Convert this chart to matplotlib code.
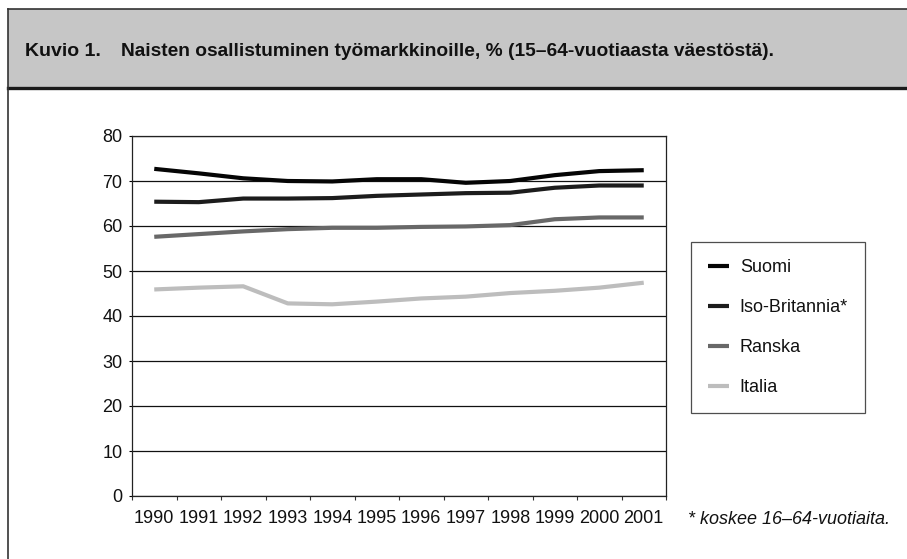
import matplotlib
matplotlib.use("Agg")
import matplotlib.pyplot as plt
from matplotlib.patches import Rectangle
from matplotlib.lines import Line2D
from matplotlib import font_manager

# Naisten työvoimaosuus, % 15–64-vuotiaista
years = ['1990', '1991', '1992', '1993', '1994', '1995',
         '1996', '1997', '1998', '1999', '2000', '2001']
suomi = [72.7, 71.7, 70.6, 70.0, 69.9, 70.4, 70.4, 69.6, 70.0, 71.3, 72.2, 72.4]
iso_britannia = [65.4, 65.3, 66.1, 66.1, 66.2, 66.7, 67.0, 67.3, 67.4, 68.5, 69.0, 69.0]
ranska = [57.6, 58.2, 58.8, 59.3, 59.6, 59.6, 59.8, 59.9, 60.2, 61.5, 61.9, 61.9]
italia = [45.9, 46.3, 46.6, 42.8, 42.6, 43.2, 43.9, 44.3, 45.1, 45.6, 46.3, 47.4]

series = [
    ('Suomi', suomi, '#050505'),
    ('Iso-Britannia*', iso_britannia, '#1c1c1c'),
    ('Ranska', ranska, '#686868'),
    ('Italia', italia, '#bdbdbd'),
]

names = {f.name for f in font_manager.fontManager.ttflist}
fam = ['Liberation Sans Narrow', 'DejaVu Sans'] if 'Liberation Sans Narrow' in names else ['Liberation Sans', 'DejaVu Sans']
plt.rcParams['font.family'] = fam
txt = '#111111'

W, H = 907, 559
fig = plt.figure(figsize=(W / 100, H / 100), dpi=100)

def fx(px):
    return px / W

def fy(py):
    return 1 - py / H

# otsikkopalkki ja kehys
fig.patches.append(Rectangle((fx(8), fy(88)), fx(W - 8), fy(9) - fy(88),
                             transform=fig.transFigure, facecolor='#c6c6c6',
                             edgecolor='none', zorder=0))
fig.lines.append(Line2D([fx(8), 1], [fy(9), fy(9)], transform=fig.transFigure,
                        color='#333333', lw=1.2))
fig.lines.append(Line2D([fx(8), 1], [fy(88), fy(88)], transform=fig.transFigure,
                        color='#1a1a1a', lw=2.4))
fig.lines.append(Line2D([fx(8), fx(8)], [fy(9), 0], transform=fig.transFigure,
                        color='#333333', lw=1.2))

fig.text(fx(25), fy(52), 'Kuvio 1.', fontsize=14, fontweight='bold',
         color=txt, va='center', ha='left')
fig.text(fx(121), fy(52), 'Naisten osallistuminen työmarkkinoille, % (15–64-vuotiaasta väestöstä).',
         fontsize=13.8, fontweight='bold', color=txt, va='center', ha='left')

ax = fig.add_axes([fx(132), fy(496), fx(666) - fx(132), fy(136) - fy(496)])
x = range(len(years))
for name, vals, col in series:
    ax.plot(x, vals, color=col, lw=3.0, label=name, solid_joinstyle='round',
            solid_capstyle='butt')

ax.set_xlim(-0.5, len(years) - 0.5)
ax.set_ylim(0, 80)
ax.set_yticks(range(0, 81, 10))
ax.yaxis.grid(True, color='#111111', lw=0.9)
ax.set_axisbelow(True)
ax.set_xticks(list(x))
ax.set_xticklabels(years)
ax.set_xticks([i - 0.5 for i in range(len(years) + 1)], minor=True)
ax.tick_params(axis='x', which='major', length=0, pad=10, labelsize=13, labelcolor=txt)
ax.tick_params(axis='x', which='minor', length=3, width=0.8, color='#333333')
ax.tick_params(axis='y', length=2, width=0.8, pad=5, labelsize=13, labelcolor=txt)
for s in ax.spines.values():
    s.set_color('#222222')
    s.set_linewidth(0.9)

leg = ax.legend(loc='upper left', bbox_to_anchor=(fx(691), fy(242)),
                bbox_transform=fig.transFigure, borderaxespad=0,
                frameon=True, fancybox=False, fontsize=13, handlelength=1.15,
                handletextpad=0.6, labelspacing=1.27, borderpad=0.95)
leg.get_frame().set_edgecolor('#222222')
leg.get_frame().set_linewidth(0.9)
for t in leg.get_texts():
    t.set_color(txt)

fig.text(fx(688), fy(520), '* koskee 16–64-vuotiaita.', fontsize=13,
         fontstyle='italic', color=txt, va='center', ha='left')

fig.savefig('out.png', dpi=100)
